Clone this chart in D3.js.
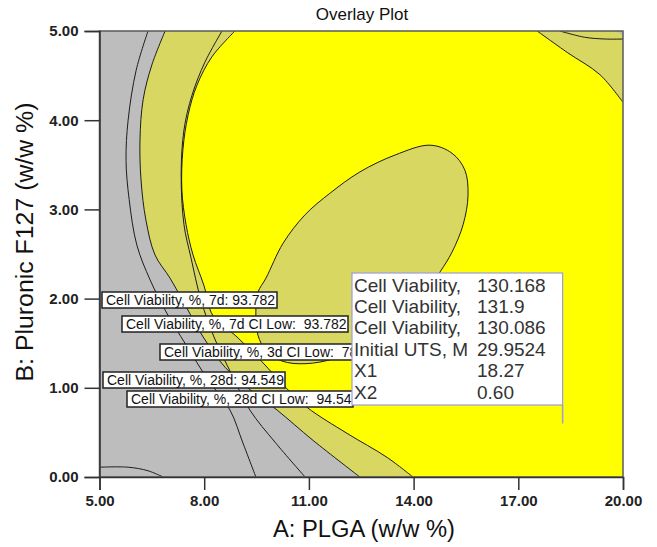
<!DOCTYPE html>
<html>
<head>
<meta charset="utf-8">
<script src="https://cdn.jsdelivr.net/npm/d3@7"></script>
<style>
body { margin: 0; background: #fff; }
text { font-family: "Liberation Sans", Arial, sans-serif; }
</style>
</head>
<body>
<svg id="chart"></svg>
<script>
// Axis ticks
const xTicks = [5, 8, 11, 14, 17, 20];
const yTicks = [0, 1, 2, 3, 4, 5];

// Contour boundaries, as [A: PLGA, B: Pluronic F127]
const grayEdge = [[6.88, 5], [6.50, 4.62], [6.25, 4.23], [6.16, 3.78], [6.19, 3.33], [6.33, 2.88],
    [6.59, 2.49], [7.02, 2.23], [7.48, 1.91], [7.97, 1.57], [8.60, 1.23], [9.31, 0.98],
    [10.09, 0.75], [11.12, 0.41], [12.46, 0]];
const yellowEdge = [[8.88, 5], [8.22, 4.71], [7.79, 4.39], [7.54, 4.06], [7.39, 3.67], [7.36, 3.22],
    [7.48, 2.83], [7.68, 2.49], [7.99, 2.15], [8.25, 1.81], [8.94, 1.57], [9.66, 1.29],
    [10.32, 1.01], [10.95, 0.78], [12.09, 0.49], [13.24, 0.22], [13.98, 0]];
const innerEllipse = [[14.47, 3.72], [15.10, 3.63], [15.47, 3.44], [15.56, 3.16], [15.42, 2.83],
    [15.10, 2.52], [14.76, 2.30], [14.18, 1.98], [13.47, 1.70], [12.61, 1.48], [11.75, 1.33],
    [10.89, 1.27], [10.23, 1.30], [9.77, 1.42], [9.54, 1.59], [9.48, 1.85], [9.54, 2.07],
    [9.77, 2.23], [10.26, 2.62], [10.89, 2.94], [11.60, 3.18], [12.46, 3.42], [13.47, 3.61]];
const cornerEdge = [[17.54, 5], [18.40, 4.76], [19.34, 4.51], [20, 4.20]];
const cornerLine = [[18.19, 5], [18.90, 4.93], [19.48, 4.91], [20, 4.91]];
const lineA = [[6.39, 5], [6.05, 4.56], [5.82, 4.00], [5.76, 3.55], [5.85, 3.11], [6.07, 2.60],
    [6.45, 2.21], [6.91, 1.85], [7.48, 1.48], [8.11, 1.09], [8.74, 0.75], [9.11, 0.38], [9.48, 0]];
const lineC = [[8.51, 5], [8.02, 4.65], [7.65, 4.28], [7.42, 3.89], [7.34, 3.39], [7.42, 2.83],
    [7.62, 2.46], [7.91, 1.98], [8.28, 1.57], [8.80, 1.14], [9.31, 0.75], [10.03, 0.39], [10.89, 0]];
const lowLine = [[5.01, 0.11], [5.82, 0.11], [6.39, 0.07], [6.82, 0]];

// Contour labels
const contourLabels = [
    "Cell Viability, %, 7d: 93.782",
    "Cell Viability, %, 7d CI Low:  93.782",
    "Cell Viability, %, 3d CI Low:  78",
    "Cell Viability, %, 28d: 94.549",
    "Cell Viability, %, 28d CI Low:  94.54"
];

// Flag point and its readout
const flagX = 18.27;
const flagY = 0.60;
const flagNames = ["Cell Viability,", "Cell Viability,", "Cell Viability,", "Initial UTS, M", "X1", "X2"];
const flagValues = ["130.168", "131.9", "130.086", "29.9524", "18.27", "0.60"];

const width = 657, height = 547;
const svg = d3.select("#chart").attr("width", width).attr("height", height);

const x = d3.scaleLinear().domain([5, 20]).range([99.5, 623]);
const y = d3.scaleLinear().domain([0, 5]).range([477, 31]);

const curve = d3.line().x(d => x(d[0])).y(d => y(d[1])).curve(d3.curveCatmullRom);
const closed = d3.line().x(d => x(d[0])).y(d => y(d[1])).curve(d3.curveCatmullRomClosed);
const corners = pts => pts.map(p => `L${x(p[0])},${y(p[1])}`).join("") + "Z";

svg.append("clipPath").attr("id", "plotClip")
    .append("rect")
    .attr("x", x(5)).attr("y", y(5))
    .attr("width", x(20) - x(5)).attr("height", y(0) - y(5));

const plot = svg.append("g").attr("clip-path", "url(#plotClip)");

const gray = "#bdbdbd", olive = "#d8d762", yellow = "#ffff00", ink = "#1c1c1c";

// Background (not satisfying constraints)
plot.append("rect")
    .attr("x", x(5)).attr("y", y(5))
    .attr("width", x(20) - x(5)).attr("height", y(0) - y(5))
    .attr("fill", gray);

// Olive band
plot.append("path")
    .attr("d", curve(grayEdge) + corners([[20, 0], [20, 5]]))
    .attr("fill", olive);

// Yellow sweet spot
plot.append("path")
    .attr("d", curve(yellowEdge) + corners([[20, 0], [20, 5]]))
    .attr("fill", yellow);

// Top right corner olive
plot.append("path")
    .attr("d", curve(cornerEdge) + corners([[20, 5]]))
    .attr("fill", olive);

// Tiny gray corner
plot.append("path")
    .attr("d", `M${x(19.8)},${y(5)}` + corners([[20, 5], [20, 4.95]]))
    .attr("fill", gray);

// Inner olive island
plot.append("path")
    .attr("d", closed(innerEllipse))
    .attr("fill", olive)
    .attr("stroke", ink)
    .attr("stroke-width", 1);

// Contour lines
[grayEdge, yellowEdge, cornerEdge, cornerLine, lineA, lineC, lowLine].forEach(pts => {
    plot.append("path")
        .attr("d", curve(pts))
        .attr("fill", "none")
        .attr("stroke", ink)
        .attr("stroke-width", 1);
});

// Plot frame
svg.append("rect")
    .attr("x", x(5)).attr("y", y(5))
    .attr("width", x(20) - x(5)).attr("height", y(0) - y(5))
    .attr("fill", "none")
    .attr("stroke", "#5a5a5a")
    .attr("stroke-width", 1.5);

// Axes
const xAxis = svg.append("g")
    .attr("transform", `translate(0,${y(0)})`)
    .call(d3.axisBottom(x).tickValues(xTicks).tickFormat(d3.format(".2f")).tickSize(13).tickPadding(5));
const yAxis = svg.append("g")
    .attr("transform", `translate(${x(5)},0)`)
    .call(d3.axisLeft(y).tickValues(yTicks).tickFormat(d3.format(".2f")).tickSize(15).tickPadding(6));

[xAxis, yAxis].forEach(g => {
    g.select(".domain").attr("stroke", "#333").attr("stroke-width", 1.5);
    g.selectAll(".tick line").attr("stroke", "#333").attr("stroke-width", 1.5);
    g.selectAll(".tick text")
        .attr("fill", "#222")
        .style("font-size", "15px")
        .style("font-weight", "bold")
        .style("font-family", "'Liberation Sans', Arial, sans-serif");
});

// Titles
svg.append("text")
    .attr("x", 362).attr("y", 20)
    .attr("text-anchor", "middle")
    .style("font-size", "17px")
    .attr("fill", "#111")
    .text("Overlay Plot");

svg.append("text")
    .attr("x", 364).attr("y", 537)
    .attr("text-anchor", "middle")
    .style("font-size", "23px")
    .attr("fill", "#111")
    .attr("textLength", 182)
    .attr("lengthAdjust", "spacingAndGlyphs")
    .text("A: PLGA (w/w %)");

svg.append("text")
    .attr("transform", "translate(33,242) rotate(-90)")
    .attr("text-anchor", "middle")
    .style("font-size", "23px")
    .attr("fill", "#111")
    .attr("textLength", 279)
    .attr("lengthAdjust", "spacingAndGlyphs")
    .text("B: Pluronic F127 (w/w %)");

// Contour labels
const labelPos = [[102, 292, 175], [122, 316, 226], [160, 344, 200], [103, 372, 182], [127, 391, 226]];
contourLabels.forEach((t, i) => {
    const [lx, ly, lw] = labelPos[i];
    const g = svg.append("g");
    g.append("rect")
        .attr("x", lx).attr("y", ly)
        .attr("width", lw).attr("height", 16)
        .attr("fill", "#fff")
        .attr("stroke", "#222")
        .attr("stroke-width", 1.5);
    g.append("text")
        .attr("x", lx + 4).attr("y", ly + 13)
        .style("font-size", "14px")
        .style("white-space", "pre")
        .attr("fill", "#111")
        .text(t);
});

// Flag readout box
const boxRight = x(flagX), boxLeft = 352, boxTop = 273, boxBottom = 405;
svg.append("rect")
    .attr("x", boxLeft).attr("y", boxTop)
    .attr("width", boxRight - boxLeft).attr("height", boxBottom - boxTop)
    .attr("fill", "#fff")
    .attr("stroke", "#9c9ce0")
    .attr("stroke-width", 1.2);
svg.append("line")
    .attr("x1", boxRight).attr("x2", boxRight)
    .attr("y1", boxBottom).attr("y2", y(flagY))
    .attr("stroke", "#9c9ce0")
    .attr("stroke-width", 1.5);

flagNames.forEach((n, i) => {
    const by = 291.5 + i * 21.4;
    svg.append("text")
        .attr("x", 354).attr("y", by)
        .style("font-size", "19px")
        .attr("fill", "#333")
        .text(n);
    svg.append("text")
        .attr("x", 477).attr("y", by)
        .style("font-size", "19px")
        .attr("fill", "#333")
        .text(flagValues[i]);
});
</script>
</body>
</html>
